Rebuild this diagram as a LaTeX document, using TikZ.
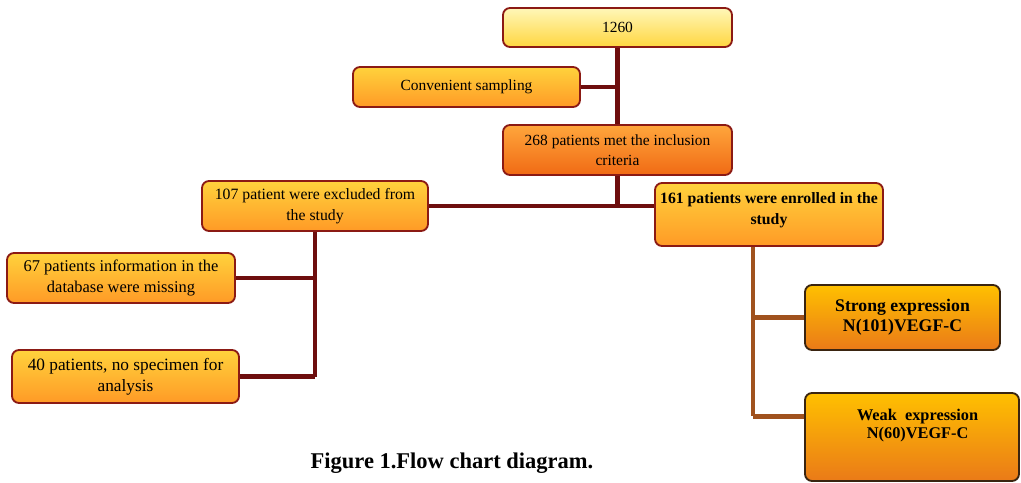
\documentclass[tikz,border=0pt]{standalone}
\usepackage{fontspec}
\setmainfont{Liberation Serif}
\usetikzlibrary{calc}
\definecolor{boxred}{HTML}{8B1A14}
\definecolor{boxdark}{HTML}{3A2410}
\definecolor{trunkred}{HTML}{6E0E0E}
\definecolor{branchbrown}{HTML}{A0521E}
\definecolor{yeltop}{HTML}{FFF7B8}
\definecolor{yelbot}{HTML}{FFD640}
\definecolor{oratop}{HTML}{FFD23C}
\definecolor{orabot}{HTML}{FF9A26}
\definecolor{redtop}{HTML}{FFA63C}
\definecolor{redbot}{HTML}{F06A14}
\definecolor{goldtop}{HTML}{FFC000}
\definecolor{goldbot}{HTML}{EA7A18}
\begin{document}
\begin{tikzpicture}[x=0.025cm,y=-0.025cm,
box/.style={draw=boxred,line width=1.3pt,rounded corners=5pt,align=center,inner sep=2pt,
  font=\fontsize{11}{14.5}\selectfont,top color=oratop,bottom color=orabot},
resbox/.style={box,draw=boxdark,top color=goldtop,bottom color=goldbot},
trunk/.style={draw=trunkred,line width=3.2pt},
branch/.style={draw=branchbrown,line width=3.2pt}]
\def\u{0.025cm}
\useasboundingbox (0,0) rectangle (1021,482);
% boxes
\node[box,top color=yeltop,bottom color=yelbot,minimum width=229*\u,minimum height=39*\u] (total) at (617.5,27.5) {1260};
\node[box,minimum width=227*\u,minimum height=40*\u] (conv) at (466.5,87) {Convenient sampling};
\node[box,top color=redtop,bottom color=redbot,minimum width=229*\u,minimum height=50*\u] (incl) at (617.5,150) {268 patients met the inclusion\\criteria};
\node[box,font=\fontsize{11.2}{14.5}\selectfont,minimum width=226*\u,minimum height=50*\u] (excl) at (315,206) {107 patient were excluded from\\the study};
\node[box,font=\bfseries\fontsize{11.2}{15}\selectfont,minimum width=228*\u,minimum height=63*\u] (enrol) at (769,214.5) {161 patients were enrolled in the\\study\\[-6pt]\mbox{}};
\node[box,font=\fontsize{11.7}{14.5}\selectfont,minimum width=228*\u,minimum height=50*\u] (miss) at (121,278) {67 patients information in the\\database were missing};
\node[box,font=\fontsize{12.3}{15}\selectfont,minimum width=227*\u,minimum height=53*\u] (nospec) at (125.5,376.5) {40 patients, no specimen for\\analysis};
\node[resbox,font=\bfseries\fontsize{12.6}{14.5}\selectfont,minimum width=195*\u,minimum height=65*\u] (strong) at (902.5,317.5) {Strong expression\\N(101)VEGF-C};
\node[resbox,font=\bfseries\fontsize{11.6}{13}\selectfont,minimum width=214*\u,minimum height=88*\u] (weak) at (912,437) {\hspace*{8pt}Weak\ \ expression\\\hspace*{8pt}N(60)VEGF-C\\[5.5pt]\mbox{}};
\node[font=\bfseries\fontsize{16}{18}\selectfont] (cap) at (452,463) {Figure 1.Flow chart diagram.};
% connectors
\draw[trunk] (total) -- (incl);
\draw[trunk] (conv.east) -- (conv.east -| total.south);
\draw[trunk] (incl.south) -- (incl.south |- excl.east);
\draw[trunk] (excl.east) -- (enrol.west |- excl.east);
\draw[trunk] (excl.south) -- (excl.south |- nospec.east);
\draw[trunk] (miss.east) -- (miss.east -| excl.south);
\draw[trunk] (nospec.east) -- (nospec.east -| excl.south);
\coordinate (split) at ($(enrol.south)+(-16,0)$);
\coordinate (wk) at ($(weak.north west)!0.27!(weak.south west)$);
\draw[branch] (split) -- (split |- wk);
\draw[branch] (strong.west) -- (strong.west -| split);
\draw[branch] (wk) -- (wk -| split);
\end{tikzpicture}
\end{document}
